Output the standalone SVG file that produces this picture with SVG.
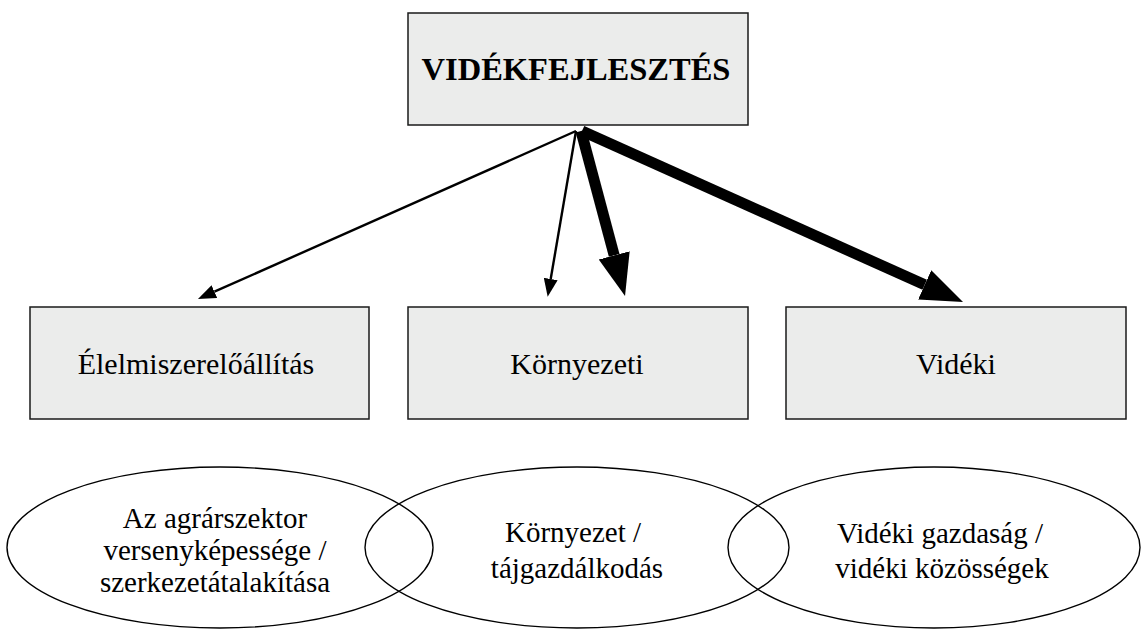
<svg xmlns="http://www.w3.org/2000/svg" width="1142" height="630" viewBox="0 0 1142 630">
<style>
.box{fill:#ebeceb;stroke:#1a1a1a;stroke-width:1.5}
.lbl{font-family:"Liberation Serif","Times New Roman",serif;font-size:30px;fill:#000;text-anchor:middle}
.title{font-weight:bold;font-size:32.5px}
.ell{fill:none;stroke:#000;stroke-width:1.4}
.etx{font-family:"Liberation Serif","Times New Roman",serif;font-size:29px;fill:#000;text-anchor:middle}
.thin{stroke:#000;stroke-width:2.4;fill:none}
.thick{stroke:#000;stroke-width:11;fill:none}
</style>
<defs>
<marker id="hThin" markerUnits="userSpaceOnUse" markerWidth="20" markerHeight="14" refX="0" refY="7" orient="auto" viewBox="0 0 20 14">
<path d="M0,0 L18,7 L0,14 Z" fill="#000"/>
</marker>
<marker id="hThick" markerUnits="userSpaceOnUse" markerWidth="44" markerHeight="34" refX="0" refY="16" orient="auto" viewBox="0 0 44 32">
<path d="M0,0 L42,16 L0,32 Z" fill="#000"/>
</marker>
</defs>
<g id="connectors">
<line class="thin" x1="576" y1="131" x2="214.4" y2="291.7" marker-end="url(#hThin)"/>
<line class="thin" x1="576" y1="131" x2="550.7" y2="279" marker-end="url(#hThin)"/>
<line class="thick" x1="581" y1="131" x2="614.2" y2="255.4" marker-end="url(#hThick)"/>
<line class="thick" x1="582" y1="131" x2="924.7" y2="284.8" marker-end="url(#hThick)"/>
</g>
<g id="node-videkfejlesztes">
<rect class="box" x="408" y="13" width="340" height="112"/>
<text class="lbl title" x="576" y="80">VIDÉKFEJLESZTÉS</text>
</g>
<g id="node-elelmiszer">
<rect class="box" x="30" y="307" width="339" height="112"/>
<text class="lbl" x="196" y="374">Élelmiszerelőállítás</text>
</g>
<g id="node-kornyezeti">
<rect class="box" x="408" y="307" width="340" height="112"/>
<text class="lbl" x="577" y="374">Környezeti</text>
</g>
<g id="node-videki">
<rect class="box" x="786" y="307" width="340" height="112"/>
<text class="lbl" x="956" y="374">Vidéki</text>
</g>
<g id="ellipse-agrar">
<ellipse class="ell" cx="220" cy="547.5" rx="213" ry="80.5"/>
<text class="etx" x="215" y="528">Az agrárszektor</text>
<text class="etx" x="215" y="560">versenyképessége /</text>
<text class="etx" x="215" y="592">szerkezetátalakítása</text>
</g>
<g id="ellipse-kornyezet">
<ellipse class="ell" cx="577" cy="547.5" rx="212" ry="80.5"/>
<text class="etx" x="573" y="542">Környezet /</text>
<text class="etx" x="577" y="578">tájgazdálkodás</text>
</g>
<g id="ellipse-videki">
<ellipse class="ell" cx="934" cy="547.5" rx="206" ry="80.5"/>
<text class="etx" x="940" y="543">Vidéki gazdaság /</text>
<text class="etx" x="942" y="578">vidéki közösségek</text>
</g>
</svg>
